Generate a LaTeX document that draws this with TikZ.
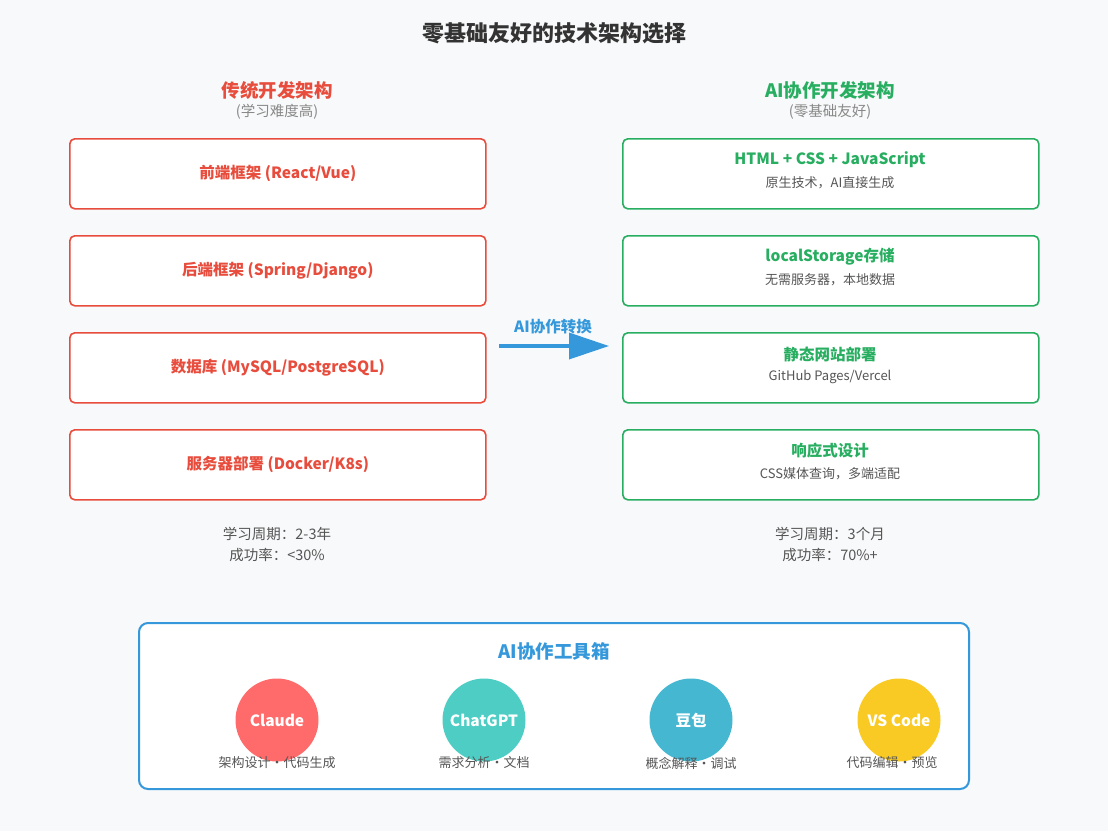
\documentclass[tikz,border=0pt]{standalone}
\usepackage{fontspec}
\setmainfont{Noto Sans CJK SC}
\usetikzlibrary{arrows.meta}
\definecolor{bg}{HTML}{F8F9FA}
\definecolor{cred}{HTML}{E74C3C}
\definecolor{cgreen}{HTML}{27AE60}
\definecolor{cblue}{HTML}{3498DB}
\definecolor{cgray}{HTML}{555555}
\definecolor{lgray}{HTML}{888888}
\definecolor{c1}{HTML}{FF6B6B}
\definecolor{c2}{HTML}{4ECDC4}
\definecolor{c3}{HTML}{45B7D1}
\definecolor{c4}{HTML}{F9CA24}
\tikzset{
 rbox/.style={draw=cred,line width=1.6pt,rounded corners=5pt,fill=white,minimum width=416pt,minimum height=70pt,anchor=north west,font=\fontsize{15.5}{18}\selectfont\bfseries,text=cred},
 gbox/.style={draw=cgreen,line width=1.6pt,rounded corners=5pt,fill=white,minimum width=416pt,minimum height=70pt,anchor=north west},
 gt/.style={font=\fontsize{15.5}{18}\selectfont\bfseries,text=cgreen},
 st/.style={font=\fontsize{13}{15}\selectfont,text=cgray},
 circ/.style={circle,minimum size=83pt,inner sep=0pt,text=white,font=\fontsize{15.5}{18}\selectfont\bfseries},
 captxt/.style={font=\fontsize{13}{15}\selectfont,text=cgray},
}
\begin{document}
\begin{tikzpicture}[x=1pt,y=-1pt]
\fill[bg] (0,0) rectangle (1108,831);
\useasboundingbox (0,0) rectangle (1108,831);
\node[font=\fontsize{22}{26}\selectfont\bfseries,text=black!80] (title) at (554,33) {零基础友好的技术架构选择};
\node[font=\fontsize{18.5}{22}\selectfont\bfseries,text=cred] (lh) at (277,90) {传统开发架构};
\node[font=\fontsize{14.5}{17}\selectfont,text=lgray] (ls) at (277,112) {(学习难度高)};
\node[font=\fontsize{18.5}{22}\selectfont\bfseries,text=cgreen] (rh) at (830,90) {AI协作开发架构};
\node[font=\fontsize{14.5}{17}\selectfont,text=lgray] (rs) at (830,112) {(零基础友好)};
\node[rbox] (l1) at (69,138) {前端框架 (React/Vue)};
\node[rbox] (l2) at (69,235) {后端框架 (Spring/Django)};
\node[rbox] (l3) at (69,332) {数据库 (MySQL/PostgreSQL)};
\node[rbox] (l4) at (69,429) {服务器部署 (Docker/K8s)};
\node[gbox] (r1) at (622,138) {};
\node[gbox] (r2) at (622,235) {};
\node[gbox] (r3) at (622,332) {};
\node[gbox] (r4) at (622,429) {};
\node[gt] (r1a) at (830,160) {HTML + CSS + JavaScript};
\node[st] (r1b) at (830,183) {原生技术，AI直接生成};
\node[gt] (r2a) at (830,257) {localStorage存储};
\node[st] (r2b) at (830,280) {无需服务器，本地数据};
\node[gt] (r3a) at (830,354) {静态网站部署};
\node[st] (r3b) at (830,377) {GitHub Pages/Vercel};
\node[gt] (r4a) at (830,451) {响应式设计};
\node[st] (r4b) at (830,474) {CSS媒体查询，多端适配};
\coordinate (a1) at (499,346);
\coordinate (a2) at (609,346);
\draw[cblue,line width=3.5pt,-{Triangle[length=40pt,width=26pt]}] (a1) -- (a2);
\node[font=\fontsize{15.5}{18}\selectfont\bfseries,text=cblue] (al) at (553,327) {AI协作转换};
\node[st,font=\fontsize{14.5}{17}\selectfont] (lst1) at (277,534) {学习周期：2-3年};
\node[st,font=\fontsize{14.5}{17}\selectfont] (lst2) at (277,555) {成功率：<30\%};
\node[st,font=\fontsize{14.5}{17}\selectfont] (rst1) at (830,534) {学习周期：3个月};
\node[st,font=\fontsize{14.5}{17}\selectfont] (rst2) at (830,555) {成功率：70\%+};
\draw[cblue,line width=2pt,rounded corners=9pt,fill=white] (139,623) rectangle (969,789);
\node[font=\fontsize{18.5}{22}\selectfont\bfseries,text=cblue] (tb) at (554,651) {AI协作工具箱};
\node[circ,fill=c1] (k1) at (277,720) {Claude};
\node[circ,fill=c2] (k2) at (484,720) {ChatGPT};
\node[circ,fill=c3] (k3) at (691,720) {豆包};
\node[circ,fill=c4] (k4) at (899,720) {VS Code};
\node[captxt] (p1) at (277,763) {架构设计·代码生成};
\node[captxt] (p2) at (484,763) {需求分析·文档};
\node[captxt] (p3) at (691,763) {概念解释·调试};
\node[captxt] (p4) at (892,763) {代码编辑·预览};
\end{tikzpicture}
\end{document}
